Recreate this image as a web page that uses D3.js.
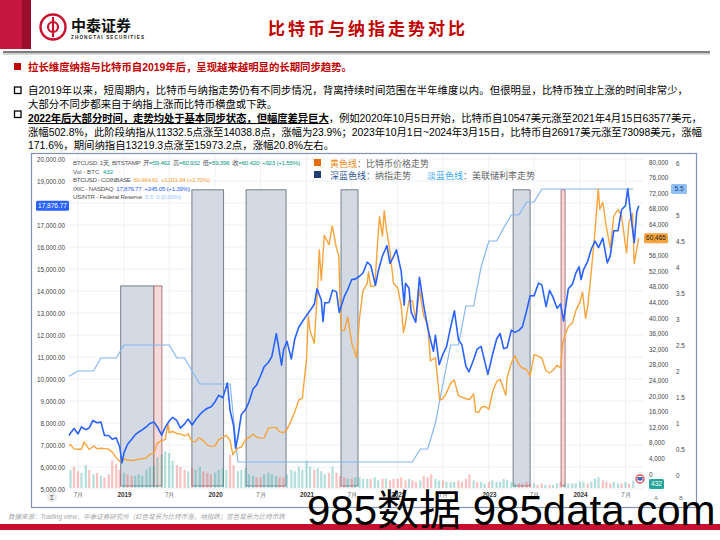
<!DOCTYPE html>
<html lang="zh">
<head>
<meta charset="utf-8" />
<title>比特币与纳指走势对比</title>
<script src="https://cdn.jsdelivr.net/npm/d3@7/dist/d3.min.js"></script>
<style>
  html,body{margin:0;padding:0;background:#fff;}
  #svg{display:block;font-family:"Liberation Sans","Noto Sans CJK SC",sans-serif;}
</style>
</head>
<body>
<svg id="svg" width="720" height="540"></svg>
<script>
// ----- 数据 -----
// 比特币 (COINBASE, 美元)
const btc = [
['2018-05-26',7450],['2018-06-01',7500],['2018-06-15',6450],['2018-07-01',6350],['2018-07-15',6350],['2018-07-25',8200],
['2018-08-01',7600],['2018-08-15',6300],['2018-09-01',7200],['2018-09-15',6500],['2018-10-01',6600],['2018-10-15',6500],
['2018-11-01',6350],['2018-11-15',5600],['2018-12-01',4200],['2018-12-15',3250],['2019-01-01',3850],['2019-01-15',3600],
['2019-02-01',3450],['2019-02-15',3600],['2019-03-01',3820],['2019-03-15',3900],['2019-04-01',4150],['2019-04-15',5050],
['2019-05-01',5350],['2019-05-15',8000],['2019-06-01',8550],['2019-06-15',8800],['2019-06-26',12900],['2019-07-01',10600],
['2019-07-15',10900],['2019-08-01',10400],['2019-08-15',10300],['2019-09-01',9750],['2019-09-15',10300],['2019-10-01',8300],
['2019-10-15',8300],['2019-10-26',9250],['2019-11-01',9200],['2019-11-15',8500],['2019-12-01',7400],['2019-12-15',7100],
['2020-01-01',7200],['2020-01-15',8800],['2020-02-01',9400],['2020-02-15',9900],['2020-03-01',8550],['2020-03-12',4900],
['2020-03-15',5350],['2020-04-01',6650],['2020-04-15',6850],['2020-05-01',8850],['2020-05-15',9300],['2020-06-01',10200],
['2020-06-15',9450],['2020-07-01',9200],['2020-07-15',9250],['2020-08-01',11800],['2020-08-15',11900],['2020-09-01',11950],
['2020-09-15',10800],['2020-10-01',10600],['2020-10-15',11500],['2020-11-01',13750],['2020-11-15',15950],['2020-12-01',19000],
['2020-12-15',19400],['2021-01-01',29400],['2021-01-08',40500],['2021-01-15',36800],['2021-02-01',33500],['2021-02-15',48600],
['2021-02-21',57500],['2021-03-01',49600],['2021-03-13',61200],['2021-04-01',58800],['2021-04-14',63600],['2021-05-01',57800],
['2021-05-10',56000],['2021-05-19',37000],['2021-06-01',36700],['2021-06-15',40200],['2021-07-01',33600],['2021-07-20',29800],
['2021-08-01',39900],['2021-08-15',47000],['2021-09-01',48800],['2021-09-06',51800],['2021-09-15',48100],['2021-10-01',48200],
['2021-10-15',61600],['2021-10-20',66000],['2021-11-01',61000],['2021-11-08',67500],['2021-11-15',63500],['2021-12-01',57200],
['2021-12-15',48900],['2022-01-01',47700],['2022-01-15',43100],['2022-01-24',36300],['2022-02-01',38700],['2022-02-15',44500],
['2022-03-01',44400],['2022-03-15',39300],['2022-03-29',47400],['2022-04-15',40500],['2022-05-01',38500],['2022-05-12',29000],
['2022-06-01',29800],['2022-06-18',19000],['2022-07-01',19300],['2022-07-15',20800],['2022-08-01',23300],['2022-08-15',24100],
['2022-09-01',20100],['2022-09-15',19700],['2022-10-01',19300],['2022-10-15',19100],['2022-11-01',20500],['2022-11-09',15900],
['2022-11-21',15800],['2022-12-01',17000],['2022-12-15',17400],['2023-01-01',16600],['2023-01-15',20900],['2023-02-01',23700],
['2023-02-15',24300],['2023-03-10',20200],['2023-03-15',24700],['2023-04-01',28500],['2023-04-15',30300],['2023-05-01',28100],
['2023-05-15',27200],['2023-06-01',26800],['2023-06-15',25100],['2023-07-01',30600],['2023-07-15',30300],['2023-08-01',29700],
['2023-08-17',26600],['2023-09-01',25900],['2023-09-15',26600],['2023-10-01',27900],['2023-10-15',27200],['2023-10-24',33900],
['2023-11-01',35400],['2023-11-15',37800],['2023-12-01',38700],['2023-12-15',41900],['2024-01-01',44200],['2024-01-11',46600],
['2024-01-23',39900],['2024-02-01',43100],['2024-02-15',51900],['2024-03-01',62400],['2024-03-14',73100],['2024-03-20',67900],
['2024-04-01',69700],['2024-04-15',63400],['2024-05-01',58000],['2024-05-15',66200],['2024-06-01',67800],['2024-06-15',66200],
['2024-07-05',56700],['2024-07-15',64700],['2024-07-29',66800],['2024-08-05',54000],['2024-08-15',57600],['2024-08-23',60465]
];
// 纳斯达克综合指数 (点)
const ixic = [
['2018-05-26',7430],['2018-06-01',7550],['2018-06-15',7750],['2018-07-01',7510],['2018-07-15',7820],['2018-08-01',7700],
['2018-08-15',7770],['2018-08-29',8110],['2018-09-15',8010],['2018-10-01',8040],['2018-10-15',7430],['2018-11-01',7430],
['2018-11-15',7260],['2018-12-01',7330],['2018-12-15',6910],['2018-12-24',6190],['2019-01-01',6640],['2019-01-15',7020],
['2019-02-01',7260],['2019-02-15',7470],['2019-03-01',7590],['2019-03-15',7690],['2019-04-01',7830],['2019-04-15',7980],
['2019-05-01',8050],['2019-05-15',7820],['2019-06-01',7450],['2019-06-15',7800],['2019-07-01',8090],['2019-07-15',8260],
['2019-08-01',8110],['2019-08-15',7770],['2019-09-01',7960],['2019-09-15',8180],['2019-10-01',7910],['2019-10-15',8150],
['2019-11-01',8390],['2019-11-15',8540],['2019-12-01',8670],['2019-12-15',8730],['2020-01-01',8970],['2020-01-15',9260],
['2020-02-01',9150],['2020-02-19',9820],['2020-03-01',8570],['2020-03-15',7870],['2020-03-23',6860],['2020-04-01',7360],
['2020-04-15',8390],['2020-05-01',8600],['2020-05-15',8940],['2020-06-01',9550],['2020-06-15',9730],['2020-07-01',10150],
['2020-07-15',10550],['2020-08-01',10750],['2020-08-15',11020],['2020-09-02',12060],['2020-09-15',11190],['2020-09-23',10630],
['2020-10-01',11330],['2020-10-15',11710],['2020-11-01',10910],['2020-11-15',11830],['2020-12-01',12350],['2020-12-15',12600],
['2021-01-01',12890],['2021-01-15',13110],['2021-02-01',13400],['2021-02-12',14100],['2021-03-01',13590],['2021-03-08',12610],
['2021-03-15',13460],['2021-04-01',13480],['2021-04-15',14040],['2021-05-01',13960],['2021-05-12',13030],['2021-06-01',13740],
['2021-06-15',14070],['2021-07-01',14520],['2021-07-15',14540],['2021-08-01',14670],['2021-08-15',14820],['2021-09-01',15310],
['2021-09-15',15160],['2021-10-04',14260],['2021-10-15',14900],['2021-11-01',15600],['2021-11-19',16060],['2021-12-01',15250],
['2021-12-15',15560],['2021-12-27',15870],['2022-01-15',14890],['2022-01-27',13350],['2022-02-01',14350],['2022-02-15',14140],
['2022-02-24',13040],['2022-03-14',12580],['2022-03-29',14620],['2022-04-15',13350],['2022-05-01',12330],['2022-05-15',11660],
['2022-05-24',11260],['2022-06-01',11990],['2022-06-16',10650],['2022-07-01',11130],['2022-07-15',11450],['2022-08-01',12370],
['2022-08-16',13100],['2022-09-01',11790],['2022-09-15',11550],['2022-10-01',10580],['2022-10-13',10320],['2022-11-01',10890],
['2022-11-15',11360],['2022-12-01',11480],['2022-12-15',10810],['2022-12-28',10210],['2023-01-15',11080],['2023-02-01',11820],
['2023-02-15',12070],['2023-03-01',11380],['2023-03-15',11430],['2023-04-01',12220],['2023-04-15',12120],['2023-05-01',12210],
['2023-05-15',12370],['2023-06-01',13100],['2023-06-15',13780],['2023-07-01',13790],['2023-07-19',14360],['2023-08-01',14280],
['2023-08-18',13290],['2023-09-01',14030],['2023-09-15',13710],['2023-10-01',13220],['2023-10-15',13410],['2023-10-27',12640],
['2023-11-15',14100],['2023-12-01',14300],['2023-12-15',14810],['2023-12-28',15100],['2024-01-05',14520],['2024-01-15',14970],
['2024-02-01',15360],['2024-02-15',15910],['2024-03-01',16270],['2024-03-15',15970],['2024-04-01',16400],['2024-04-19',15280],
['2024-05-01',15610],['2024-05-15',16740],['2024-06-01',16740],['2024-06-15',17690],['2024-07-01',17880],['2024-07-10',18650],
['2024-07-25',17180],['2024-08-05',16200],['2024-08-15',17590],['2024-08-23',17877]
];
// 美联储利率 (%)
const fed = [
['2018-05-26',1.9],['2018-07-01',2.0],['2018-09-01',2.0],['2018-10-01',2.25],['2018-12-01',2.25],['2019-01-01',2.5],
['2019-07-01',2.5],['2019-08-01',2.25],['2019-09-01',2.25],['2019-10-01',2.0],['2019-11-01',1.75],['2020-03-01',1.75],
['2020-04-01',0.25],['2022-03-01',0.25],['2022-04-01',0.5],['2022-05-01',0.5],['2022-06-01',1.0],['2022-07-01',1.75],
['2022-08-01',2.5],['2022-09-01',2.5],['2022-10-01',3.25],['2022-11-01',3.25],['2022-12-01',4.0],['2023-01-01',4.5],
['2023-02-01',4.5],['2023-03-01',4.75],['2023-04-01',5.0],['2023-05-01',5.0],['2023-06-01',5.25],['2023-07-01',5.25],
['2023-08-01',5.5],['2024-08-01',5.5]
];
// BITSTAMP 成交量 (千BTC, 半月, 自2018-06-01起)
const volStart = '2018-06-01';
const volume = [12,14,11,10,15,12,9,10,8,7,9,18,16,12,
10,9,8,8,9,8,12,14,15,20,22,24,23,18,15,14,12,11,13,12,14,11,10,9,
10,12,13,12,22,15,11,12,13,9,8,7,7,9,10,9,8,7,7,9,12,11,14,12,
18,14,12,13,11,9,10,14,10,8,7,6,6,7,7,6,6,6,7,5,6,6,5,6,
6,7,5,6,5,4,5,8,7,9,6,5,5,4,4,4,5,4,6,9,5,4,4,3,
4,5,4,4,6,5,4,3,3,3,4,3,3,2,3,2,2,2,3,4,3,3,3,3,
4,4,3,4,6,7,5,4,3,4,3,3,4,3,5];
// 标注区间 (蓝:比特币跌纳指涨 / 红:比特币涨纳指跌), level 为纳指刻度上的框顶
const regions = [
  {start:'2018-12-19', end:'2019-05-01', level:14230, kind:'blue'},
  {start:'2019-05-01', end:'2019-06-02', level:14230, kind:'red'},
  {start:'2019-09-30', end:'2020-02-04', level:18600, kind:'blue'},
  {start:'2020-05-04', end:'2020-10-11', level:18600, kind:'blue'},
  {start:'2021-05-19', end:'2021-07-26', level:18600, kind:'blue'},
  {start:'2023-04-08', end:'2023-06-15', level:18600, kind:'blue'},
  {start:'2023-10-17', end:'2023-11-02', level:18600, kind:'red'}
];
const xTickDates  = ['2018-07-01','2019-01-01','2019-07-01','2020-01-01','2020-07-01','2021-01-01','2021-07-01','2022-01-01','2022-07-01','2023-01-01','2023-07-01','2024-01-01','2024-07-01'];
const xTickLabels = ['7月','2019','7月','2020','7月','2021','7月','2022','7月','2023','7月','2024','7月'];
const ixicTicks = d3.range(5000, 20001, 1000);
const btcTicks  = d3.range(0, 80001, 4000);
const fedTicks  = d3.range(0, 6.01, 0.5);

const parse = d3.timeParse('%Y-%m-%d');
const svg = d3.select('#svg');

// ----- 页眉 -----
svg.append('rect').attr('x',0).attr('y',0).attr('width',22).attr('height',49).attr('fill','#c4163e');
svg.append('rect').attr('x',22).attr('y',0).attr('width',9).attr('height',49).attr('fill','#9a0d2c');
svg.append('rect').attr('x',3).attr('y',51).attr('width',707).attr('height',2.5).attr('fill','#7f7f7f');
svg.append('rect').attr('x',3).attr('y',53.5).attr('width',707).attr('height',1.5).attr('fill','#d9d9d9');
const logo = svg.append('g').attr('fill','none').attr('stroke','#c8102e');
logo.append('circle').attr('cx',53).attr('cy',27).attr('r',12.5).attr('stroke-width',2.4);
logo.append('path').attr('d','M53,17 V37 M53,22 a5,5 0 1,0 0,10 M53,22 a5,5 0 1,1 0,10').attr('stroke-width',2.2);
svg.append('text').attr('x',71).attr('y',31).attr('font-size',15).attr('font-weight','bold')
  .attr('font-family','"Noto Sans CJK SC"').attr('fill','#111').text('中泰证券');
svg.append('text').attr('x',71).attr('y',39).attr('font-size',4.6).attr('font-weight','bold')
  .attr('textLength',73).attr('fill','#222').text('ZHONGTAI SECURITIES');
svg.append('text').attr('x',368).attr('y',35).attr('text-anchor','middle').attr('font-size',17)
  .attr('font-family','"Noto Sans CJK SC"').attr('font-weight','bold').attr('letter-spacing',3)
  .attr('fill','#c00000').text('比特币与纳指走势对比');

// ----- 正文要点 -----
const body = svg.append('g').attr('font-size',10.4);
body.append('rect').attr('x',14).attr('y',63).attr('width',7).attr('height',7).attr('fill','#c00000');
body.append('text').attr('x',28).attr('y',71).attr('fill','#c00000').attr('font-weight','bold')
  .attr('textLength',324).text('拉长维度纳指与比特币自2019年后，呈现越来越明显的长期同步趋势。');
[87,111].forEach(y=>body.append('rect').attr('x',14.5).attr('y',y).attr('width',6.5).attr('height',6.5)
  .attr('fill','none').attr('stroke','#000').attr('stroke-width',1.3));
body.append('text').attr('x',28).attr('y',94).attr('textLength',660)
  .text('自2019年以来，短周期内，比特币与纳指走势仍有不同步情况，背离持续时间范围在半年维度以内。但很明显，比特币独立上涨的时间非常少，');
body.append('text').attr('x',28).attr('y',108).text('大部分不同步都来自于纳指上涨而比特币横盘或下跌。');
const b3 = body.append('text').attr('x',28).attr('y',122).attr('textLength',674);
b3.append('tspan').attr('font-weight','bold').attr('text-decoration','underline').text('2022年后大部分时间，走势均处于基本同步状态，但幅度差异巨大');
b3.append('tspan').text('，例如2020年10月5日开始，比特币自10547美元涨至2021年4月15日63577美元，');
body.append('text').attr('x',28).attr('y',136).attr('textLength',674)
  .text('涨幅502.8%，此阶段纳指从11332.5点涨至14038.8点，涨幅为23.9%；2023年10月1日~2024年3月15日，比特币自26917美元涨至73098美元，涨幅');
body.append('text').attr('x',28).attr('y',149).text('171.6%，期间纳指自13219.3点涨至15973.2点，涨幅20.8%左右。');

// ----- 图表 -----
const x = d3.scaleTime().domain([parse('2018-05-26'), parse('2024-09-13')]).range([69, 644]);
const yIx  = d3.scaleLinear().domain([5000, 20000]).range([489, 159]);
const yBtc = d3.scaleLinear().domain([0, 80000]).range([474, 162]);
const yFed = d3.scaleLinear().domain([0, 6]).range([475, 163]);
const yVol = d3.scaleLinear().domain([0, 25]).range([0, 38]);
const paneTop = 155, paneBottom = 488;

const chart = svg.append('g');
chart.append('rect').attr('x',31.5).attr('y',153.5).attr('width',665).attr('height',354)
  .attr('fill','#fff').attr('stroke','#8391b8').attr('stroke-width',1.2);

// 网格
chart.append('g').selectAll('line').data(ixicTicks).join('line')
  .attr('x1',69).attr('x2',644).attr('y1',d=>yIx(d)).attr('y2',d=>yIx(d)).attr('stroke','#eef0f4');
chart.append('g').selectAll('line').data(xTickDates).join('line')
  .attr('x1',d=>x(parse(d))).attr('x2',d=>x(parse(d))).attr('y1',paneTop).attr('y2',paneBottom).attr('stroke','#eef0f4');

// 标注区间
chart.append('g').selectAll('rect').data(regions).join('rect')
  .attr('x',d=>x(parse(d.start))).attr('width',d=>x(parse(d.end))-x(parse(d.start)))
  .attr('y',d=>yIx(d.level)).attr('height',d=>486-yIx(d.level))
  .attr('fill',d=>d.kind==='red'?'#f4dada':'#d3dae3')
  .attr('stroke',d=>d.kind==='red'?'#a86a6a':'#6a7383').attr('stroke-width',0.9);

// 成交量
const btcSeries = btc.map(([d,v])=>({date:parse(d),v}));
const bis = d3.bisector(d=>d.date).right;
const priceAt = t=>btcSeries[Math.max(0,bis(btcSeries,t)-1)].v;
const vol0 = parse(volStart);
chart.append('g').attr('opacity',0.35).selectAll('rect').data(volume).join('rect')
  .each(function(v,i){
    const t = d3.timeDay.offset(d3.timeMonth.offset(vol0, Math.floor(i/2)), (i%2)*14);
    const prev = d3.timeDay.offset(t,-14);
    d3.select(this).attr('x',x(t)-1.1).attr('width',2.2)
      .attr('y',paneBottom-yVol(v)).attr('height',yVol(v))
      .attr('fill',priceAt(t)>=priceAt(prev)?'#26a69a':'#ef5350');
  });

// 线
const line = (ys)=>d3.line().x(d=>x(parse(d[0]))).y(d=>ys(d[1]));
chart.append('path').datum(fed).attr('d',line(yFed)).attr('fill','none').attr('stroke','#86b6f2').attr('stroke-width',1.2);
chart.append('path').datum(btc).attr('d',line(yBtc)).attr('fill','none').attr('stroke','#f7a43c').attr('stroke-width',1.4).attr('stroke-linejoin','round');
chart.append('path').datum(ixic).attr('d',line(yIx)).attr('fill','none').attr('stroke','#2962ff').attr('stroke-width',1.6).attr('stroke-linejoin','round');

// 坐标轴
const axisStyle = g=>{g.select('.domain').remove();g.selectAll('text').attr('fill','#444').attr('font-size',6.3);};
chart.append('g').attr('transform','translate(65,0)')
  .call(d3.axisLeft(yIx).tickValues(ixicTicks).tickFormat(d3.format(',.2f')).tickSize(0).tickPadding(0)).call(axisStyle);
chart.append('g').attr('transform','translate(649,0)')
  .call(d3.axisRight(yBtc).tickValues(btcTicks).tickFormat(d3.format(',')).tickSize(0).tickPadding(0)).call(axisStyle);
chart.append('g').attr('transform','translate(676,0)')
  .call(d3.axisRight(yFed).tickValues(fedTicks).tickFormat(d3.format('~g')).tickSize(0).tickPadding(0)).call(axisStyle);
const xa = chart.append('g').attr('transform','translate(0,493)')
  .call(d3.axisBottom(x).tickValues(xTickDates.map(parse)).tickFormat((d,i)=>xTickLabels[i]).tickSize(0).tickPadding(0)).call(axisStyle);
xa.selectAll('text').attr('font-weight',(d,i)=>xTickLabels[i].length===4?'bold':'normal')
  .attr('fill',(d,i)=>xTickLabels[i].length===4?'#333':'#666');
chart.append('circle').attr('cx',52).attr('cy',497).attr('r',5).attr('fill','#ececec');
chart.append('text').attr('x',52).attr('y',499.5).attr('text-anchor','middle').attr('font-size',6.5).attr('fill','#555').text('Σ');
[['A',656],['B',681]].forEach(([t,cx])=>{
  chart.append('text').attr('x',cx).attr('y',499.5).attr('text-anchor','middle').attr('font-size',6).attr('fill','#777').text(t);
});

// 价格标签
const badge = (xx,y,w,fill,color,txt)=>{
  chart.append('rect').attr('x',xx).attr('y',y-5).attr('width',w).attr('height',10).attr('rx',1.5).attr('fill',fill);
  chart.append('text').attr('x',xx+w/2).attr('y',y+2.3).attr('text-anchor','middle').attr('font-size',6.5).attr('fill',color).text(txt);
};
const lastBtc = btc[btc.length-1][1], lastFed = fed[fed.length-1][1];
badge(36,yIx(17876.77),33,'#2962ff','#fff','17,876.77');
badge(644,yBtc(lastBtc),24,'#f7a43c','#222',d3.format(',')(lastBtc));
badge(671,yFed(lastFed),16,'#90c0f6','#1a3d7a',String(lastFed));
badge(649,484,15,'#26a69a','#fff','432');
chart.append('circle').attr('cx',640).attr('cy',479).attr('r',4).attr('fill','#fff').attr('stroke','#e0474c').attr('stroke-width',1.3);
chart.append('rect').attr('x',637.5).attr('y',477).attr('width',5).attr('height',3.5).attr('fill','#3f62b5');

// 行情图例
const tv = chart.append('g').attr('font-size',6.2).attr('fill','#555');
const rows = [
  [['BTCUSD, 1天, BITSTAMP  开','#555'],['=59,462  ','#089981'],['高','#555'],['=60,932  ','#089981'],['低','#555'],['=59,396  ','#089981'],['收','#555'],['=60,420  +923 (+1.55%)','#089981']],
  [['Vol - BTC  ','#555'],['432','#089981']],
  [['BTCUSD - COINBASE  ','#555'],['60,464.61  +1,011.94 (+1.70%)','#f7a43c']],
  [['IXIC - NASDAQ  ','#555'],['17,876.77  +245.05 (+1.39%)','#2962ff']],
  [['USINTR - Federal Reserve  ','#555'],['5.5  0 (0.00%)','#9cc6f7']]
];
const rowLen = [227, null, 137, 117, 108];
rows.forEach((r,i)=>{
  const t = tv.append('text').attr('x',73).attr('y',165+i*8.6).attr('xml:space','preserve');
  if(rowLen[i]) t.attr('textLength',rowLen[i]);
  r.forEach(([s,c])=>t.append('tspan').attr('fill',c).text(s));
});

// 线条说明
const lg = chart.append('g').attr('font-size',9).attr('font-family','"Noto Sans CJK SC"');
lg.append('rect').attr('x',314).attr('y',159).attr('width',7).attr('height',7).attr('fill','#e36c09');
lg.append('rect').attr('x',314).attr('y',171).attr('width',7).attr('height',7).attr('fill','#1f3f6e');
const l1 = lg.append('text').attr('x',330).attr('y',166.5);
l1.append('tspan').attr('fill','#f08a24').text('黄色线');
l1.append('tspan').attr('fill','#666').text('：比特币价格走势');
const l2 = lg.append('text').attr('x',330).attr('y',178.5);
l2.append('tspan').attr('fill','#2f5597').text('深蓝色线');
l2.append('tspan').attr('fill','#666').text('：纳指走势');
const l3 = lg.append('text').attr('x',427).attr('y',178.5);
l3.append('tspan').attr('fill','#3aa8f0').text('淡蓝色线');
l3.append('tspan').attr('fill','#666').text('：美联储利率走势');

// ----- 页脚 -----
svg.append('text').attr('x',8).attr('y',519).attr('font-size',6.5).attr('font-style','italic').attr('fill','#a6a6a6')
  .text('数据来源：Trading view，中泰证券研究所（红色背景为比特币涨，纳指跌；蓝色背景为比特币跌');
svg.append('rect').attr('x',0).attr('y',524).attr('width',720).attr('height',6).attr('fill','#c8102e');
svg.append('text').attr('x',307).attr('y',525).attr('font-size',42).attr('fill','#000').text('985数据 985data.com');
</script>
</body>
</html>
